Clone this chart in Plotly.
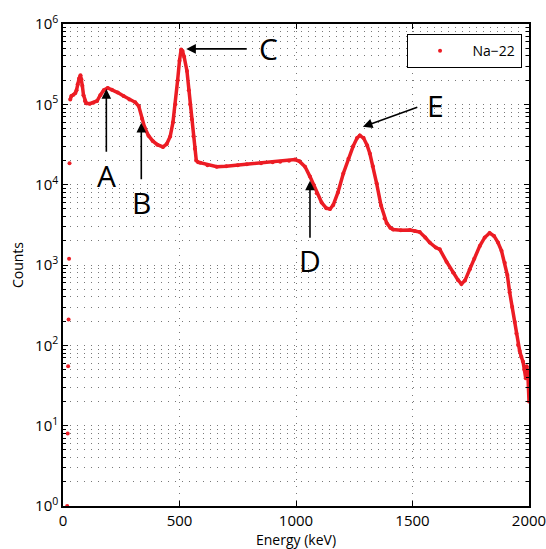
import plotly.graph_objects as go

# Na-22 gamma spectrum
low_energy = [18, 20, 22, 24, 26, 28]
low_counts = [1, 8, 55, 210, 1200, 18500]

energy = [31, 36, 45, 53, 58, 63, 69, 75, 79, 83, 88, 94, 100, 115, 130, 146, 160, 175,
          192, 210, 235, 260, 285, 310, 325, 339, 350, 367, 385, 405, 429, 445, 460, 472,
          482, 492, 500, 507, 513, 520, 532, 540, 546, 553, 560, 566, 572, 580, 589, 620,
          660, 700, 750, 789, 850, 900, 932, 970, 996, 1015, 1039, 1060, 1075, 1089, 1110,
          1130, 1146, 1160, 1180, 1203, 1225, 1245, 1262, 1274, 1290, 1305, 1317, 1330,
          1346, 1365, 1380, 1389, 1405, 1417, 1450, 1489, 1510, 1531, 1555, 1574, 1600,
          1617, 1646, 1674, 1695, 1710, 1725, 1746, 1765, 1789, 1810, 1831, 1850, 1867,
          1882, 1896, 1907, 1917, 1928, 1939, 1946, 1953, 1960, 1967, 1974, 1980, 1986,
          1990, 1995, 2000]
counts = [1.15e5, 1.27e5, 1.32e5, 1.38e5, 1.5e5, 1.78e5, 2.1e5, 2.3e5, 2.05e5, 1.7e5,
          1.3e5, 1.1e5, 1.03e5, 1.02e5, 1.05e5, 1.1e5, 1.3e5, 1.5e5, 1.6e5, 1.52e5, 1.4e5,
          1.27e5, 1.15e5, 1.06e5, 9.5e4, 6.6e4, 5.2e4, 4.07e4, 3.5e4, 3.15e4, 2.95e4, 3.2e4,
          3.97e4, 6e4, 1e5, 2e5, 3.5e5, 4.8e5, 4.6e5, 3.9e5, 2.6e5, 1.5e5, 1e5, 6.5e4, 4e4,
          2.8e4, 2e4, 1.9e4, 1.87e4, 1.75e4, 1.67e4, 1.7e4, 1.75e4, 1.8e4, 1.85e4, 1.9e4,
          1.93e4, 1.98e4, 2.05e4, 1.95e4, 1.67e4, 1.26e4, 1.0e4, 7.8e3, 6e3, 5.1e3, 4.98e3,
          5.6e3, 8e3, 1.38e4, 2.1e4, 3e4, 3.8e4, 4.1e4, 3.8e4, 3.1e4, 2.44e4, 1.7e4, 1.04e4,
          5.5e3, 3.8e3, 3.34e3, 2.9e3, 2.76e3, 2.7e3, 2.72e3, 2.65e3, 2.57e3, 2.2e3, 1.9e3,
          1.65e3, 1.567e3, 1.1e3, 809, 650, 581, 640, 888, 1.2e3, 1.73e3, 2.2e3, 2.5e3,
          2.3e3, 1.9e3, 1.5e3, 1.07e3, 750, 458, 300, 195, 140, 101, 85, 72, 63, 50, 39, 55,
          45, 20]

x_ticks = [0, 500, 1000, 1500, 2000]
y_ticks = [1, 10, 100, 1000, 10000, 100000, 1000000]
y_ticktext = ["10<sup>0</sup>", "10<sup>1</sup>", "10<sup>2</sup>", "10<sup>3</sup>",
              "10<sup>4</sup>", "10<sup>5</sup>", "10<sup>6</sup>"]

RED = "rgb(236,28,36)"
FONT = "Open Sans"
GRID = "rgb(120,120,120)"

fig = go.Figure()
fig.add_trace(go.Scatter(x=energy, y=counts, mode="lines",
                         line=dict(color=RED, width=3.5), showlegend=False,
                         hoverinfo="skip"))
fig.add_trace(go.Scatter(x=low_energy + energy, y=low_counts + counts, mode="markers",
                         marker=dict(color=RED, size=4), name="Na\u221222",
                         cliponaxis=False))

minor_vals = [m * 10 ** k for k in range(0, 6) for m in range(2, 10)]

fig.update_xaxes(range=[0, 2000], tickvals=x_ticks, ticks="inside", ticklen=5,
                 tickcolor="black", showline=True, linecolor="black", linewidth=1.5,
                 mirror="ticks", showgrid=True, gridcolor=GRID, griddash="1px,6px",
                 gridwidth=1, zeroline=False, ticklabeloverflow="allow",
                 automargin=False,
                 title=dict(text="Energy (keV)", font=dict(size=14, family=FONT, color="black"),
                            standoff=4),
                 tickfont=dict(size=15, family=FONT, color="black"))
fig.update_yaxes(type="log", range=[0, 6], tickvals=y_ticks, ticktext=y_ticktext,
                 ticks="inside", ticklen=5, tickcolor="black", showline=True,
                 linecolor="black", linewidth=1.5, mirror="ticks",
                 showgrid=True, gridcolor=GRID, griddash="1px,6px", gridwidth=1,
                 zeroline=False, ticklabeloverflow="allow",
                 minor=dict(tickvals=minor_vals, ticks="inside", ticklen=3,
                            tickcolor="black", showgrid=True, gridcolor=GRID,
                            griddash="1px,6px", gridwidth=1),
                 title=dict(text="Counts", font=dict(size=14, family=FONT, color="black"),
                            standoff=8),
                 tickfont=dict(size=15, family=FONT, color="black"))

def arrow(hx, hy, tx, ty):
    return dict(x=hx, y=hy, ax=tx, ay=ty, xref="x", yref="y", axref="x", ayref="y",
                text="", showarrow=True, arrowhead=2, arrowsize=1.2, arrowwidth=1.6,
                arrowcolor="black")

def label(t, x, y):
    return dict(x=x, y=y, xref="x", yref="y", text=t, showarrow=False,
                font=dict(size=30, family=FONT, color="black"))

annotations = [
    arrow(186, 5.19, 186, 4.39), label("A", 186, 4.12),
    arrow(336, 4.77, 336, 4.05), label("B", 336, 3.78),
    arrow(529, 5.69, 795, 5.69), label("C", 880, 5.70),
    arrow(1060, 4.05, 1060, 3.32), label("D", 1060, 3.05),
    arrow(1287, 4.72, 1527, 4.97), label("E", 1598, 4.98),
]

fig.update_layout(
    width=546, height=549, autosize=False,
    margin=dict(l=63, r=17, t=19, b=43),
    plot_bgcolor="white", paper_bgcolor="white",
    font=dict(family=FONT, color="black"),
    annotations=annotations,
    legend=dict(x=0.984, y=0.979, xanchor="right", yanchor="top",
                bordercolor="black", borderwidth=1, bgcolor="white",
                itemwidth=55,
                font=dict(size=14, family=FONT, color="black")),
)

fig.write_html("out.html")
